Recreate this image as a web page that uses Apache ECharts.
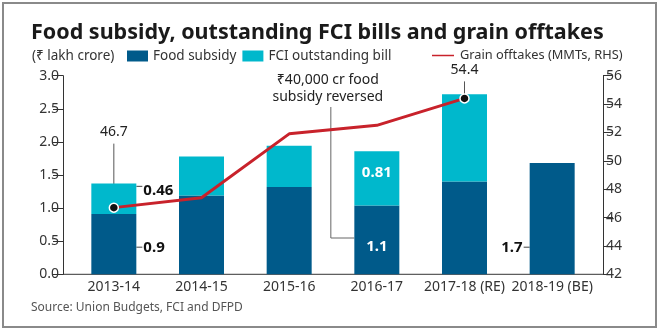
<!DOCTYPE html>
<html>
<head>
<meta charset="utf-8">
<script src="https://cdn.jsdelivr.net/npm/echarts@6/dist/echarts.min.js"></script>
<style>
  html, body { margin: 0; padding: 0; background: #fff; }
  #chart { width: 660px; height: 331px; }
</style>
</head>
<body>
<div id="chart"></div>
<script>
// data
var categories = ['2013-14', '2014-15', '2015-16', '2016-17', '2017-18 (RE)', '2018-19 (BE)'];
var foodSubsidy = [0.91, 1.19, 1.32, 1.04, 1.40, 1.68];
var fciBill = [0.46, 0.59, 0.62, 0.82, 1.32, null];
var grainOfftake = [46.7, 47.4, 51.9, 52.5, 54.4, null];
var subsidyLabels = ['0.9', '', '', '1.1', '', '1.7'];
var billLabels = ['0.46', '', '', '0.81', '', ''];
var offtakeLabels = ['46.7', '', '', '', '54.4', ''];
var leftTicks = [0, 3, 0.5];
var rightTicks = [42, 56, 2];

var FONT = 'Noto Sans';
var DARK = '#005a8a';
var CYAN = '#00b8cc';
var RED = '#c8222b';
var BAR_W = 45;

var chart = echarts.init(document.getElementById('chart'));

// label placement per labelled bar item: [position, offsetY]
var subsidyPlace = { 0: ['right', 3.5], 3: ['inside', 7], 5: ['left', 29] };
var billPlace = { 0: ['right', -8], 3: ['inside', -6] };

function barItem(labels, place) {
  return function (v, i) {
    var item = { value: v };
    var lab = labels[i];
    if (!lab) return item;
    var p = place[i];
    item.label = {
      show: true,
      position: p[0],
      distance: 7,
      offset: [0, p[1]],
      color: p[0] === 'inside' ? '#fff' : '#111',
      formatter: lab
    };
    return item;
  };
}

function offtakeItem(v, i) {
  var lab = offtakeLabels[i];
  if (!lab) return { value: v, symbolSize: 0 };
  return {
    value: v,
    symbolSize: 9,
    label: { show: true, position: 'top', distance: 5, offset: [0, i === 0 ? -58 : -11], formatter: lab }
  };
}

var option = {
  animation: false,
  textStyle: { fontFamily: FONT },
  title: [
    {
      text: 'Food subsidy, outstanding FCI bills and grain offtakes',
      left: 26, top: 17,
      textStyle: { fontFamily: FONT, fontSize: 21.5, fontWeight: 'bold', color: '#1a1a1a' }
    },
    {
      text: '(₹ lakh crore)',
      left: 27, top: 44,
      textStyle: { fontFamily: FONT, fontSize: 13.5, fontWeight: 'normal', color: '#333' }
    },
    {
      text: 'Source: Union Budgets, FCI and DFPD',
      left: 26, top: 297,
      textStyle: { fontFamily: FONT, fontSize: 12, fontWeight: 'normal', color: '#555' }
    }
  ],
  legend: [
    {
      left: 122, top: 44,
      itemWidth: 21, itemHeight: 11, itemGap: 6,
      textStyle: { fontFamily: FONT, fontSize: 13.5, color: '#333' },
      data: [
        { name: 'Food subsidy', icon: 'rect' },
        { name: 'FCI outstanding bill', icon: 'rect' }
      ]
    },
    {
      left: 425, top: 44,
      itemWidth: 24, itemHeight: 3.5,
      textStyle: { fontFamily: FONT, fontSize: 12.8, color: '#333' },
      data: [{ name: 'Grain offtakes (MMTs, RHS)', icon: 'rect', itemStyle: { color: RED } }]
    }
  ],
  grid: { left: 70, right: 64, top: 75.7, bottom: 56.7 },
  xAxis: {
    type: 'category',
    data: categories,
    axisLine: { show: false },
    axisTick: { show: false },
    axisLabel: { interval: 0, margin: 6, fontSize: 14, color: '#333', fontFamily: FONT }
  },
  yAxis: [
    {
      type: 'value',
      min: leftTicks[0], max: leftTicks[1], interval: leftTicks[2],
      offset: 7,
      splitLine: { show: false },
      axisLine: { show: true, lineStyle: { color: '#333', width: 1 } },
      axisTick: { show: true, length: 10, lineStyle: { color: '#333' } },
      axisLabel: { margin: 4, fontSize: 14, color: '#333', formatter: function (v) { return v.toFixed(1); } }
    },
    {
      type: 'value',
      min: rightTicks[0], max: rightTicks[1], interval: rightTicks[2],
      offset: 7,
      position: 'right',
      splitLine: { show: false },
      axisLine: { show: true, lineStyle: { color: '#333', width: 1 } },
      axisTick: { show: true, length: 10, lineStyle: { color: '#333' } },
      axisLabel: { margin: 3, fontSize: 14, color: '#333' }
    }
  ],
  series: [
    {
      name: 'Food subsidy',
      type: 'bar',
      stack: 'total',
      barWidth: BAR_W,
      itemStyle: { color: DARK },
      label: { fontSize: 15, fontWeight: 'bold', fontFamily: FONT },
      data: foodSubsidy.map(barItem(subsidyLabels, subsidyPlace))
    },
    {
      name: 'FCI outstanding bill',
      type: 'bar',
      stack: 'total',
      barWidth: BAR_W,
      itemStyle: { color: CYAN },
      label: { fontSize: 15, fontWeight: 'bold', fontFamily: FONT },
      data: fciBill.map(barItem(billLabels, billPlace))
    },
    {
      name: 'Grain offtakes (MMTs, RHS)',
      type: 'line',
      yAxisIndex: 1,
      symbol: 'circle',
      showAllSymbol: true,
      lineStyle: { color: RED, width: 3 },
      itemStyle: { color: '#111', borderColor: '#fff', borderWidth: 1.5 },
      label: { fontSize: 14, color: '#222', fontFamily: FONT },
      data: grainOfftake.map(offtakeItem),
      z: 5
    }
  ]
};

chart.setOption(option);

// leader lines and decorations, placed from the data through the chart's own scales
var gfx = [
  {
    type: 'rect', silent: true,
    shape: { x: 3, y: 3, width: 653, height: 324 },
    style: { fill: 'none', stroke: '#8a8a8a', lineWidth: 2 }
  }
];
var base = chart.convertToPixel({ yAxisIndex: 0 }, 0);
gfx.push({
  type: 'line', silent: true,
  shape: { x1: 63, y1: base, x2: 603, y2: base },
  style: { stroke: '#333', lineWidth: 1 }
});

function sideTick(i, segBottom, segTop, place) {
  var p = chart.convertToPixel({ seriesIndex: 0 }, [i, (segBottom + segTop) / 2]);
  var y = p[1] + place[1];
  var x0 = place[0] === 'right' ? p[0] + BAR_W / 2 : p[0] - BAR_W / 2;
  var x1 = place[0] === 'right' ? x0 + 6 : x0 - 6;
  gfx.push({ type: 'line', silent: true, shape: { x1: x0, y1: y - 0.5, x2: x1, y2: y - 0.5 }, style: { stroke: '#444', lineWidth: 1 } });
}
sideTick(0, 0, foodSubsidy[0], subsidyPlace[0]);
sideTick(5, 0, foodSubsidy[5], subsidyPlace[5]);
sideTick(0, foodSubsidy[0], foodSubsidy[0] + fciBill[0], [billPlace[0][0], billPlace[0][1] - 4]);

offtakeLabels.forEach(function (lab, i) {
  if (!lab) return;
  var p = chart.convertToPixel({ seriesIndex: 2 }, [i, grainOfftake[i]]);
  var off = i === 0 ? -58 : -11;
  gfx.push({
    type: 'line', silent: true, z: 1,
    shape: { x1: p[0], y1: p[1] - 4, x2: p[0], y2: p[1] - 10 + off + 4 },
    style: { stroke: '#555', lineWidth: 1 }
  });
});

// "₹40,000 cr food subsidy reversed" note pointing to the 2016-17 bar
var bar16 = chart.convertToPixel({ seriesIndex: 0 }, [3, foodSubsidy[3] / 2]);
var noteX = bar16[0] - 46;
gfx.push({
  type: 'text', silent: true,
  x: noteX - 3, y: 72,
  style: {
    text: '₹40,000 cr food\nsubsidy reversed',
    fontFamily: FONT, fontSize: 14, lineHeight: 17,
    fill: '#222', align: 'center'
  }
});
gfx.push({
  type: 'polyline', silent: true,
  shape: { points: [[noteX, 107], [noteX, 238], [bar16[0] - BAR_W / 2, 238]] },
  style: { stroke: '#666', lineWidth: 1, fill: 'none' }
});

chart.setOption({ graphic: gfx });
</script>
</body>
</html>
